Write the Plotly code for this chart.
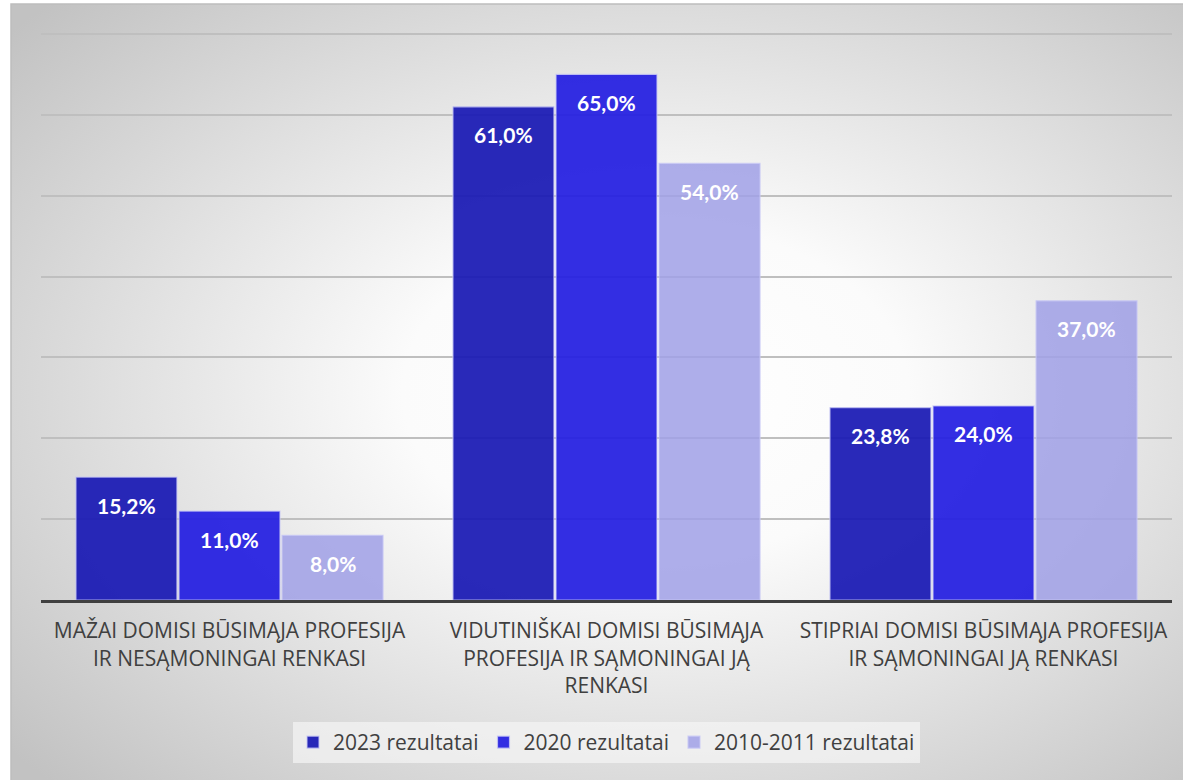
import base64
import plotly.graph_objects as go

categories = [
    "MAŽAI DOMISI BŪSIMĄJA PROFESIJA<br>IR NESĄMONINGAI RENKASI",
    "VIDUTINIŠKAI DOMISI BŪSIMĄJA<br>PROFESIJA IR SĄMONINGAI JĄ<br>RENKASI",
    "STIPRIAI DOMISI BŪSIMĄJA PROFESIJA<br>IR SĄMONINGAI JĄ RENKASI",
]
series_names = ["2023 rezultatai", "2020 rezultatai", "2010-2011 rezultatai"]
values_2023 = [15.2, 61.0, 23.8]
values_2020 = [11.0, 65.0, 24.0]
values_2010 = [8.0, 54.0, 37.0]
y_ticks = [0, 10, 20, 30, 40, 50, 60, 70]

colors = ["rgba(25,25,180,0.93)", "rgba(35,30,225,0.93)", "rgba(160,160,230,0.85)"]
W, H = 1183, 780
ML, MR, MT, MB = 41, 11, 30, 180
PW, PH = W - ML - MR, H - MT - MB
BARGAP = 0.18


def fmt(v):
    return ("%.1f%%" % v).replace(".", ",")


fig = go.Figure()
all_vals = [values_2023, values_2020, values_2010]
for name, vals, col in zip(series_names, all_vals, colors):
    fig.add_trace(go.Bar(
        name=name, x=categories, y=vals,
        marker=dict(color=col, line=dict(color="rgba(200,200,245,0.8)", width=1.2)),
        hoverinfo="skip",
    ))

# data labels: inside end of each bar, shifted to the bar's slot in its group
slot = PW / len(categories) * (1 - BARGAP) / len(series_names)
for si, vals in enumerate(all_vals):
    for cat, v in zip(categories, vals):
        fig.add_annotation(
            x=cat, y=v, xref="x", yref="y", text="<b>%s</b>" % fmt(v),
            showarrow=False, xshift=(si - 1) * slot, yshift=-28,
            yanchor="middle", xanchor="center",
            font=dict(family="Lato", size=21, color="white"),
        )

svg = (
    '<svg xmlns="http://www.w3.org/2000/svg" width="1172" height="776" viewBox="0 0 1172 776" preserveAspectRatio="none">'
    '<defs><radialGradient id="g" cx="0.55" cy="0.5" r="0.72">'
    '<stop offset="0" stop-color="#ffffff"/>'
    '<stop offset="0.3" stop-color="#fbfbfb"/>'
    '<stop offset="1" stop-color="#c2c2c2"/>'
    '</radialGradient></defs>'
    '<rect width="1172" height="776" fill="url(#g)"/></svg>'
)
src = "data:image/svg+xml;base64," + base64.b64encode(svg.encode()).decode()

x0 = (11 - ML) / PW
x1 = (W - ML) / PW
ytop = (H - MB - 4) / PH
ybot = -MB / PH

fig.add_layout_image(dict(
    source=src, xref="paper", yref="paper",
    x=x0, y=ytop, sizex=x1 - x0, sizey=ytop - ybot,
    xanchor="left", yanchor="top", sizing="stretch", layer="below",
))
fig.add_shape(type="rect", xref="paper", yref="paper",
              x0=x0, x1=x1 + 0.01, y0=ybot - 0.01, y1=ytop,
              line=dict(color="#bdbdbd", width=1.5), layer="below")

fig.update_layout(
    width=W, height=H,
    margin=dict(l=ML, r=MR, t=MT, b=MB),
    paper_bgcolor="white", plot_bgcolor="rgba(0,0,0,0)",
    barmode="group", bargap=BARGAP, bargroupgap=0.02,
    font=dict(family="Open Sans", color="#404040"),
    showlegend=True,
    legend=dict(
        orientation="h", x=0.5, xanchor="center", y=-122 / PH, yanchor="top",
        bgcolor="rgba(245,245,245,0.7)", borderwidth=0,
        font=dict(family="Open Sans", size=21, color="#404040"),
        itemwidth=30,
        itemclick=False, itemdoubleclick=False,
    ),
)
fig.update_xaxes(
    showline=True, linecolor="#404040", linewidth=3,
    ticks="", showgrid=False, ticklabelstandoff=10,
    tickfont=dict(family="Open Sans", size=21, color="#404040"),
)
fig.update_yaxes(
    range=[0, 70.5], tickvals=y_ticks, showticklabels=False,
    showgrid=True, gridcolor="#bfbfbf", gridwidth=1.5,
    zeroline=False, showline=False,
)

fig.write_html("out.html", config={"displayModeBar": False},
               post_script="document.body.style.margin='0px';")
